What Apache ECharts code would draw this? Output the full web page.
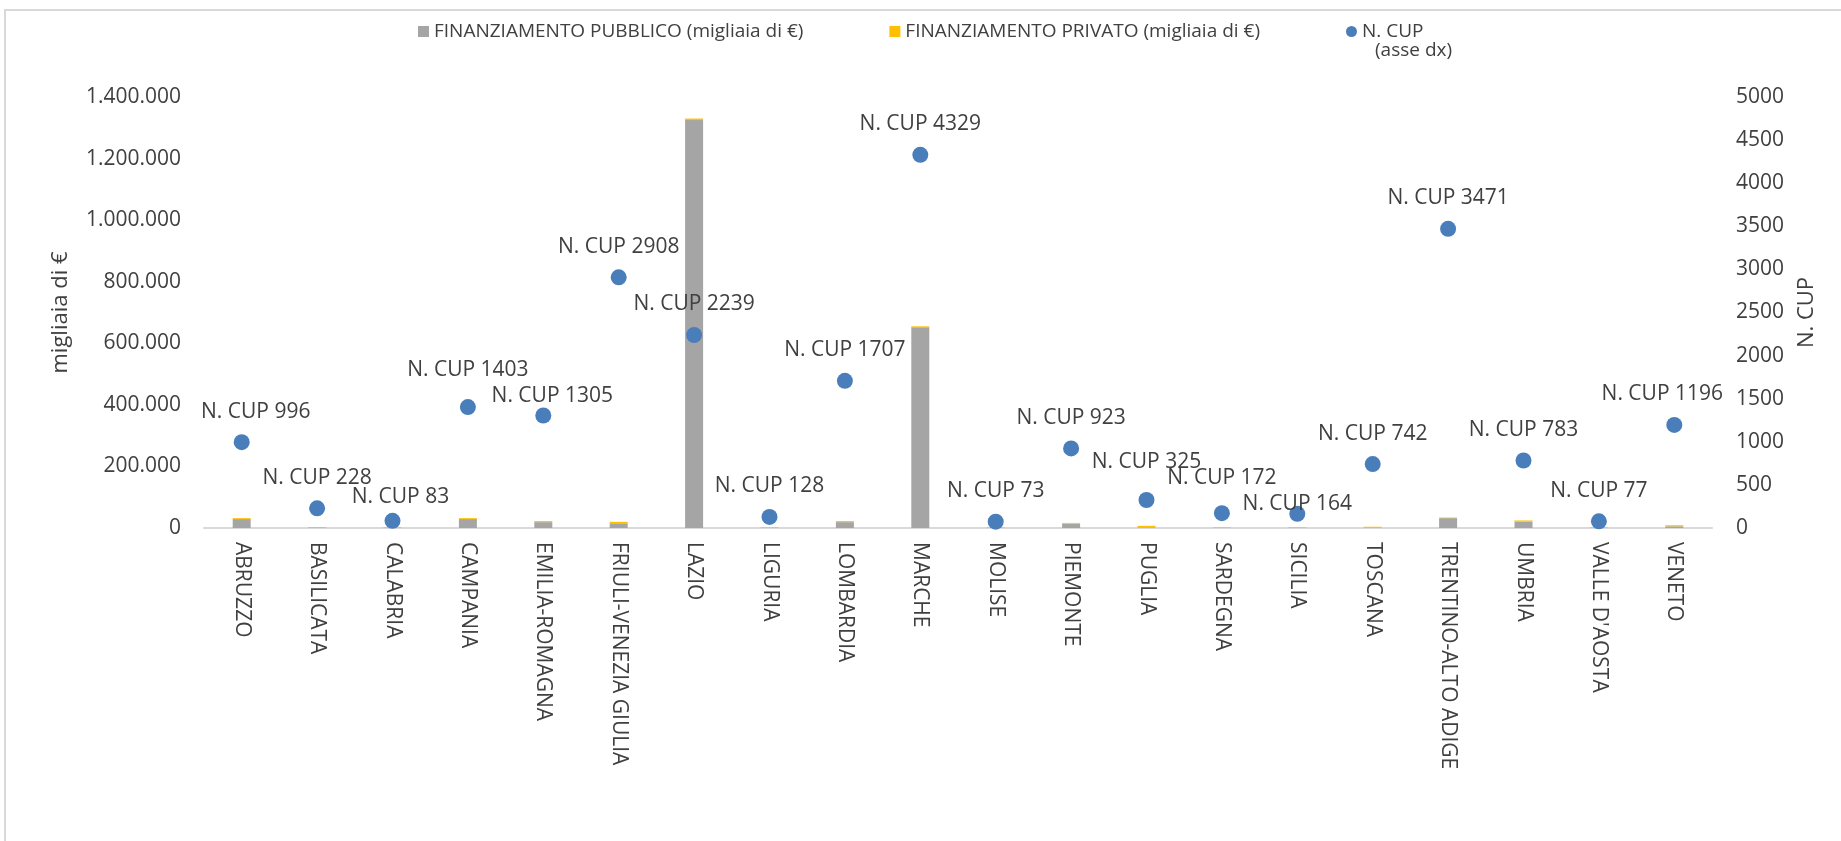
<!DOCTYPE html>
<html>
<head>
<meta charset="utf-8">
<script src="https://cdn.jsdelivr.net/npm/echarts@6/dist/echarts.min.js"></script>
<style>
html,body{margin:0;padding:0;background:#fff;}
#chart{width:1841px;height:841px;}
</style>
</head>
<body>
<div id="chart"></div>
<script>
const categories = ["ABRUZZO","BASILICATA","CALABRIA","CAMPANIA","EMILIA-ROMAGNA","FRIULI-VENEZIA GIULIA","LAZIO","LIGURIA","LOMBARDIA","MARCHE","MOLISE","PIEMONTE","PUGLIA","SARDEGNA","SICILIA","TOSCANA","TRENTINO-ALTO ADIGE","UMBRIA","VALLE D'AOSTA","VENETO"];
const publicFunding = [29000,1500,1000,29000,19000,13000,1325000,1000,19000,652000,1000,14000,2000,1000,1000,1500,32000,21000,1000,5500];
const privateFunding = [3000,1000,1000,3000,3500,7000,5000,1000,3500,3000,500,2500,5000,1000,1000,2500,2000,3500,1000,3500];
const cupCount = [996,228,83,1403,1305,2908,2239,128,1707,4329,73,923,325,172,164,742,3471,783,77,1196];
const leftTicks = {min:0, max:1400000, interval:200000};
const rightTicks = {min:0, max:5000, interval:500};

const FONT = "'Open Sans', sans-serif";
const TXT = '#404040';
// label nudges (style only)
const labelNudge = {0:[14,0],2:[8,7],3:[0,-7],4:[9,11],12:[0,-7],13:[0,-5],14:[0,21],19:[-12,0]};

function fmtIt(v){ return String(v).replace(/\B(?=(\d{3})+(?!\d))/g,'.'); }

const chart = echarts.init(document.getElementById('chart'), null, {renderer:'canvas'});
chart.setOption({
  backgroundColor:'#fff',
  animation:false,
  textStyle:{fontFamily:FONT},
  graphic:[
    {type:'rect', shape:{x:5,y:10,width:1900,height:900}, style:{fill:'none', stroke:'#d9d9d9', lineWidth:2}, silent:true},
    {type:'text', left:1375, top:41, style:{text:'(asse dx)', font:"19px 'Open Sans', sans-serif", fill:TXT}}
  ],
  legend:{
    left:413, top:17,
    itemWidth:11, itemHeight:11, itemGap:86,
    textStyle:{fontFamily:FONT, fontSize:19, color:TXT},
    data:[
      {name:'FINANZIAMENTO PUBBLICO (migliaia di €)', icon:'rect'},
      {name:'FINANZIAMENTO PRIVATO (migliaia di €)', icon:'rect'},
      {name:'N. CUP', icon:'circle'}
    ]
  },
  grid:{left:204, right:129, top:97, bottom:313},
  xAxis:{
    type:'category', data:categories,
    axisLine:{lineStyle:{color:'#d9d9d9', width:2}},
    axisTick:{show:false},
    axisLabel:{rotate:-90, interval:0, margin:14, fontFamily:FONT, fontSize:21, color:TXT}
  },
  yAxis:[
    {type:'value', min:leftTicks.min, max:leftTicks.max, interval:leftTicks.interval,
     name:'migliaia di €', nameLocation:'middle', nameGap:132, nameRotate:90,
     nameTextStyle:{fontFamily:FONT, fontSize:22, color:TXT},
     axisLine:{show:false}, axisTick:{show:false}, splitLine:{show:false},
     axisLabel:{margin:23, fontFamily:FONT, fontSize:21, color:TXT, formatter:fmtIt}},
    {type:'value', min:rightTicks.min, max:rightTicks.max, interval:rightTicks.interval,
     name:'N. CUP', nameLocation:'middle', nameGap:84, nameRotate:90,
     nameTextStyle:{fontFamily:FONT, fontSize:22, color:TXT},
     axisLine:{show:false}, axisTick:{show:false}, splitLine:{show:false},
     axisLabel:{margin:24, fontFamily:FONT, fontSize:21, color:TXT, formatter:v=>String(v)}}
  ],
  series:[
    {name:'FINANZIAMENTO PUBBLICO (migliaia di €)', type:'bar', stack:'f', barWidth:18,
     itemStyle:{color:'#a5a5a5'}, data:publicFunding},
    {name:'FINANZIAMENTO PRIVATO (migliaia di €)', type:'bar', stack:'f', barWidth:18,
     itemStyle:{color:'#ffc000'}, data:privateFunding},
    {name:'N. CUP', type:'scatter', yAxisIndex:1, symbol:'circle', symbolSize:16,
     itemStyle:{color:'#4a7ebb', opacity:1},
     label:{show:true, position:'top', distance:12, fontFamily:FONT, fontSize:21, color:TXT,
            formatter:p=>'N. CUP '+p.value},
     data:cupCount.map((v,i)=>{
       const n = labelNudge[i];
       return n ? {value:v, label:{offset:n}} : v;
     })}
  ]
});
</script>
</body>
</html>
